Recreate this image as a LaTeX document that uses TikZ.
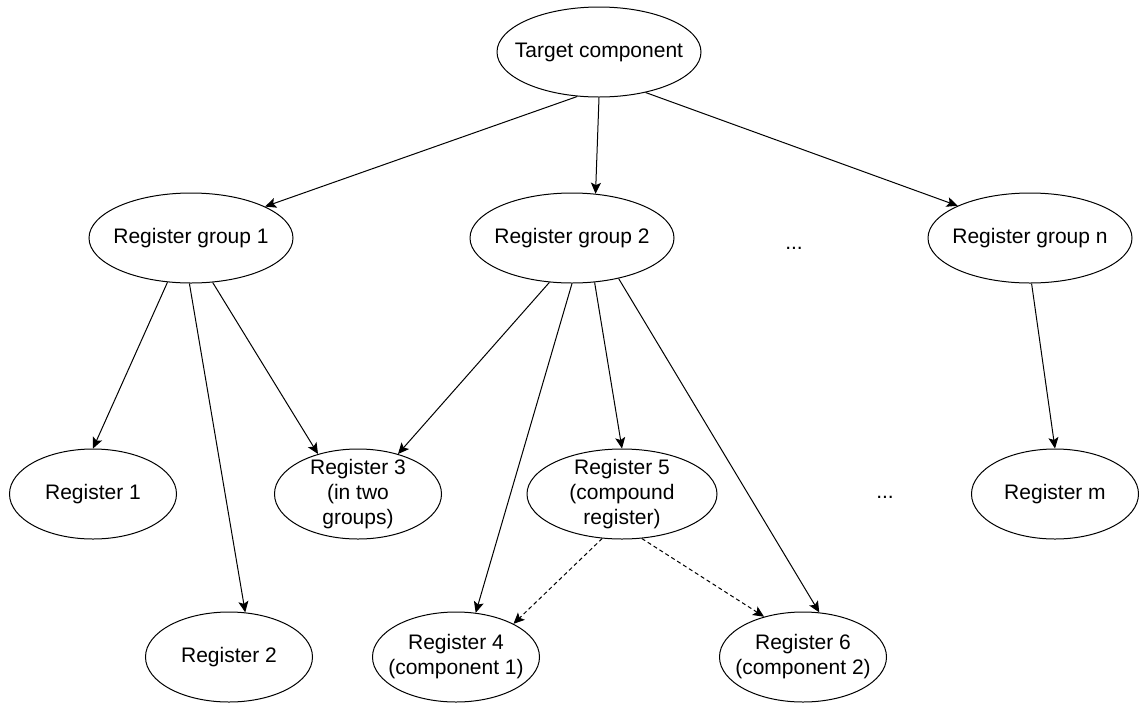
\documentclass[tikz,border=0pt]{standalone}
\usepackage{fontspec}
\setmainfont{Liberation Sans}
\usetikzlibrary{shapes.geometric, arrows.meta}
\tikzset{
  bubble/.style={ellipse, draw, line width=0.5pt, inner sep=0pt, minimum height=45pt},
  group/.style={bubble, minimum width=102pt},
  reg/.style={bubble, minimum width=83.5pt},
  says/.style={label={[align=center, font=\fontsize{10.5pt}{12.5pt}\selectfont]center:#1}},
  arrow/.style={line width=0.5pt, -{Stealth[length=5.5pt, width=5pt, inset=1.2pt]}},
  part/.style={arrow, dash pattern=on 2pt off 1.5pt}
}

\begin{document}
\begin{tikzpicture}[x=0.5pt, y=-0.5pt]
\useasboundingbox (0,0) rectangle (1141,703);

% component and its groups
\node[group, says={Target component}] (tc) at (599,52) {};
\node[group, says={Register group 1}] (g1) at (191,238) {};
\node[group, says={Register group 2}] (g2) at (572,238) {};
\node[group, says={Register group n}] (gn) at (1030,238) {};
\node[font=\fontsize{10.5pt}{12.5pt}\selectfont] (dots1) at (794,248) {...};

% registers
\node[reg, says={Register 1}] (r1) at (93,494) {};
\node[reg, says={Register 3\\(in two\\groups)}] (r3) at (358,494) {};
\node[reg, minimum width=95pt, says={Register 5\\(compound\\register)}] (r5) at (622,494) {};
\node[reg, says={Register m}] (rm) at (1055,494) {};
\node[reg, says={Register 2}] (r2) at (229,657) {};
\node[reg, says={Register 4\\(component 1)}] (r4) at (456,657) {};
\node[reg, says={Register 6\\(component 2)}] (r6) at (803,657) {};
\node[font=\fontsize{10.5pt}{12.5pt}\selectfont] (dots2) at (885,497) {...};

\draw[arrow] (tc.244) -- (g1.23);
\draw[arrow] (tc.270) -- (g2.62);
\draw[arrow] (tc.319) -- (gn.156);
\draw[arrow] (g1.242) -- (r1.north);
\draw[arrow] (g1.268) -- (r2.70);
\draw[arrow] (g1.296) -- (r3.135);
\draw[arrow] (g2.243) -- (r3.45);
\draw[arrow] (g2.270) -- (r4.66);
\draw[arrow] (g2.297) -- (r5.north);
\draw[arrow] (g2.319) -- (r6.70);
\draw[arrow] (gn.272) -- (rm.north);
% parts of the compound register
\draw[part] (r5.246) -- (r4.30);
\draw[part] (r5.294) -- (r6.134);
\end{tikzpicture}
\end{document}
